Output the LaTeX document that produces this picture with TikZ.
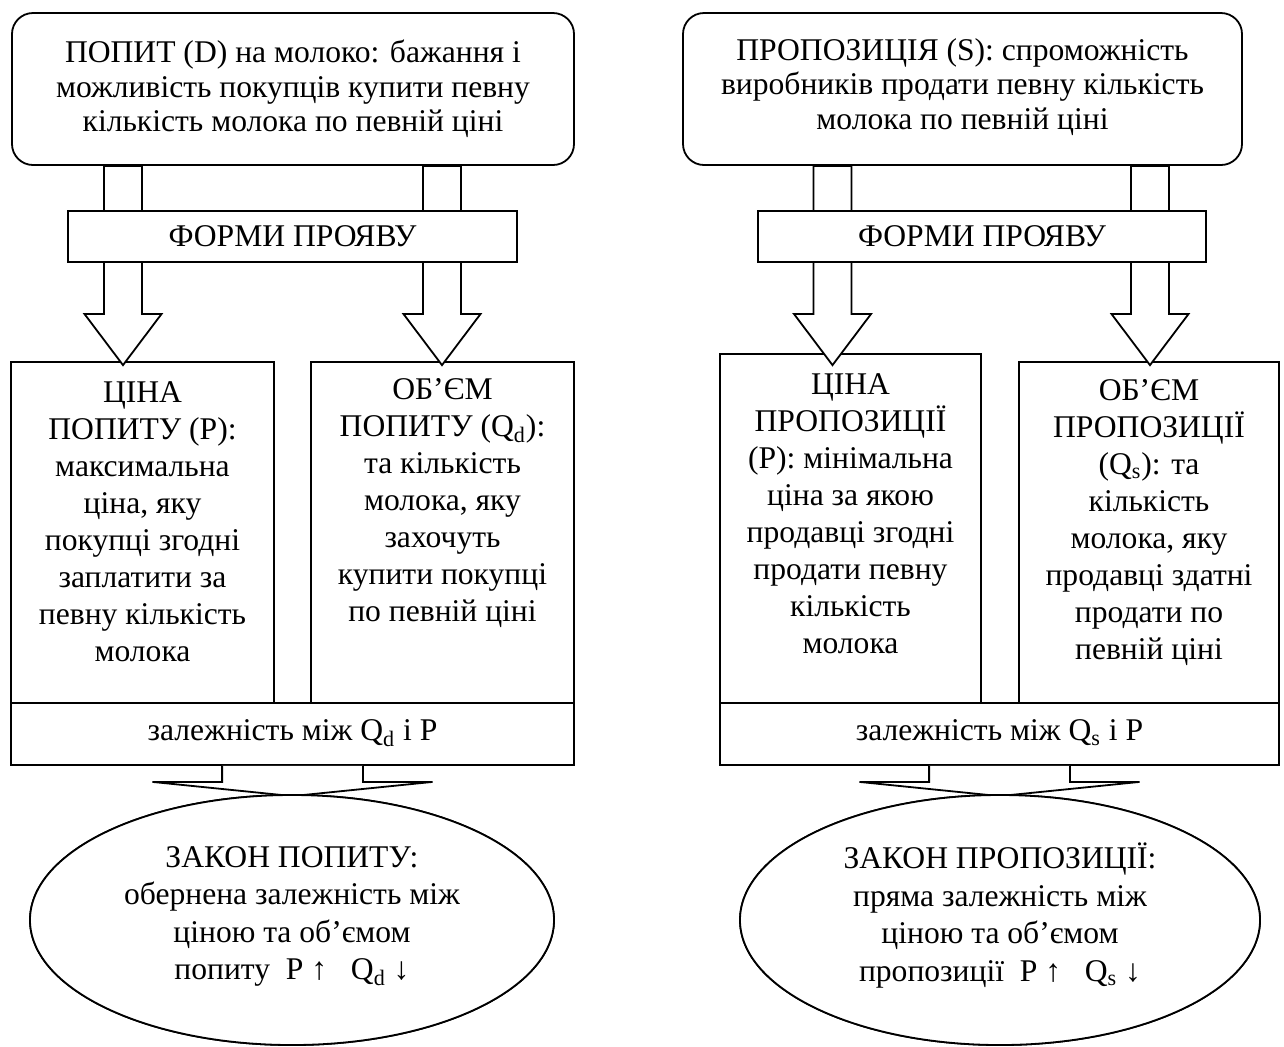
\documentclass[tikz,border=0pt]{standalone}
\usepackage{fontspec}
\setmainfont{Liberation Serif}
\usetikzlibrary{shapes.geometric,calc}
\newcommand\blockarr[4]{% #1 x(px), #2 source node, #3 target node, #4 tip overshoot
  \draw[fill=white] let \p1=(#2.south), \p2=(#3.north), \p3=(#1,314) in
   (\x3-9.5pt,\y1) -- (\x3-9.5pt,\y3) -- (\x3-19.25pt,\y3) -- (\x3,\y2-#4)
   -- (\x3+19.25pt,\y3) -- (\x3+9.5pt,\y3) -- (\x3+9.5pt,\y1) -- cycle;}
\newcommand\bottomarr[2]{% #1 source node, #2 ellipse node
  \draw[fill=white] let \p1=(#1.south), \p2=(#2.north) in
   (\x1-35.2pt,\y1) -- (\x1-35.2pt,\y1-8pt) -- (\x1-70pt,\y1-8pt) -- (\x1,\y2-1pt)
   -- (\x1+70pt,\y1-8pt) -- (\x1+35.2pt,\y1-8pt) -- (\x1+35.2pt,\y1);}
\begin{document}
\begin{tikzpicture}[x=0.5pt,y=-0.5pt,line width=0.9pt,
  txt/.style={font=\fontsize{15.8}{17.2}\selectfont,inner sep=0pt,align=center},
  btxt/.style={font=\fontsize{15.8}{18.5}\selectfont,inner sep=0pt,align=center},
  etxt/.style={font=\fontsize{15.8}{18.8}\selectfont,inner sep=0pt,align=center},
  rbox/.style={draw,fill=white,rounded corners=10.5pt,inner sep=0pt},
  sbox/.style={draw,fill=white,inner sep=0pt},
  ell/.style={draw,fill=white,ellipse,inner sep=0pt}]
\useasboundingbox[fill=white] (0,0) rectangle (1284,1046);
% top boxes
\node[rbox,minimum width=281pt,minimum height=76pt] (dtop) at (293,89) {};
\node[txt] (dtoptxt) at (293,89) {ПОПИТ (D) на молоко: бажання і\\можливість покупців купити певну\\кількість молока по певній ціні};
\node[rbox,minimum width=279.5pt,minimum height=76pt] (stop) at (962.5,89) {};
\node[txt] (stoptxt) at (962.5,87) {ПРОПОЗИЦІЯ (S): спроможність\\виробників продати певну кількість\\молока по певній ціні};
% target boxes
\node[sbox,minimum width=131.5pt,minimum height=170.5pt] (dp) at (142.5,532.5) {};
\node[sbox,minimum width=131.5pt,minimum height=170.5pt] (dq) at (442.5,532.5) {};
\node[sbox,minimum width=130.5pt,minimum height=174.5pt] (sp) at (850.5,528.5) {};
\node[sbox,minimum width=130pt,minimum height=170.5pt] (sq) at (1149,532.5) {};
% relation boxes
\node[sbox,minimum width=281.5pt,minimum height=31pt] (zl) at (292.5,734) {};
\node[txt] (zltxt) at (292.5,733) {залежність між Q\textsubscript{d} і P};
\node[sbox,minimum width=279.5pt,minimum height=31pt] (zr) at (999.5,734) {};
\node[txt] (zrtxt) at (999.5,733) {залежність між Q\textsubscript{s} і P};
% block arrows
\blockarr{123}{dtop}{dp}{2pt}
\blockarr{442}{dtop}{dq}{2pt}
\blockarr{832.5}{stop}{sp}{6pt}
\blockarr{1150}{stop}{sq}{2pt}
% forms boxes
\node[sbox,minimum width=224.5pt,minimum height=25.5pt] (fl) at (292.5,236.5) {};
\node[txt] (fltxt) at (292.5,236.5) {ФОРМИ ПРОЯВУ};
\node[sbox,minimum width=224pt,minimum height=25.5pt] (fr) at (982,236.5) {};
\node[txt] (frtxt) at (982,236.5) {ФОРМИ ПРОЯВУ};
% box texts
\node[btxt] (dptxt) at (142.5,522) {ЦІНА\\ПОПИТУ (P):\\максимальна\\ціна, яку\\покупці згодні\\заплатити за\\певну кількість\\молока};
\node[btxt] (dqtxt) at (442.5,503.5) {ОБ’ЄМ\\ПОПИТУ (Q\textsubscript{d}):\\та кількість\\молока, яку\\захочуть\\купити покупці\\по певній ціні};
\node[btxt] (sptxt) at (850.5,514) {ЦІНА\\ПРОПОЗИЦІЇ\\(P): мінімальна\\ціна за якою\\продавці згодні\\продати певну\\кількість\\молока};
\node[btxt] (sqtxt) at (1149,522.5) {ОБ’ЄМ\\ПРОПОЗИЦІЇ\\(Q\textsubscript{s}): та\\кількість\\молока, яку\\продавці здатні\\продати по\\певній ціні};
% bottom arrows and ellipses
\coordinate (elc) at (292,920);
\coordinate (erc) at (1000,920);
\node[ell,minimum width=262pt,minimum height=125pt] (el) at (elc) {};
\node[ell,minimum width=260pt,minimum height=125pt] (er) at (erc) {};
\bottomarr{zl}{el}
\bottomarr{zr}{er}
\node[ell,minimum width=262pt,minimum height=125pt] (el2) at (elc) {};
\node[ell,minimum width=260pt,minimum height=125pt] (er2) at (erc) {};
\node[etxt] (eltxt) at (292,916.5) {ЗАКОН ПОПИТУ:\\обернена залежність між\\ціною та об’ємом\\попиту\ \ P ↑\ \ \ Q\textsubscript{d} ↓};
\node[etxt] (ertxt) at (1000,915.5) {ЗАКОН ПРОПОЗИЦІЇ:\\пряма залежність між\\ціною та об’ємом\\пропозиції\ \ P ↑\ \ \ Q\textsubscript{s} ↓};
\end{tikzpicture}
\end{document}
